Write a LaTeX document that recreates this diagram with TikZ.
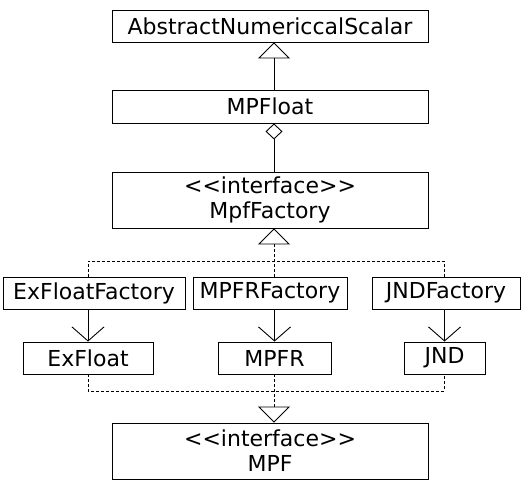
\documentclass[tikz,border=0pt]{standalone}
\usepackage{fontspec}
\setmainfont{DejaVu Sans}
\usetikzlibrary{arrows.meta}

\begin{document}
\begin{tikzpicture}[x=1pt,y=-1pt,line width=0.9pt,
  cls/.style={draw,inner sep=0pt,minimum height=32pt,align=center,
    font=\fontsize{22}{25}\selectfont},
  iface/.style={cls,minimum height=56pt},
  dashline/.style={dash pattern=on 3pt off 2pt},
  inherit/.style={-{Triangle[open,length=16pt,width=32pt]}},
  realize/.style={inherit,dashline},
  owns/.style={{Diamond[open,length=16pt,width=17pt]}-},
  uses/.style={-{Straight Barb[length=14pt,width=32pt]}}]
\useasboundingbox (0,0) rectangle (523,480);
\coordinate (spine) at (274,0);
\coordinate (topbar) at (0,261);
\coordinate (botbar) at (0,391);

% classes
\node[cls,minimum width=316pt] (abs) at (270,26) {AbstractNumericcalScalar};
\node[cls,minimum width=316pt,minimum height=33pt] (mpfloat) at (270,106.5) {MPFloat};
\node[iface,minimum width=316pt] (mpffac) at (270,200) {<{}<interface>{}>\\MpfFactory};
\node[cls,minimum width=182pt] (exff) at (94,293) {ExFloatFactory};
\node[cls,minimum width=154pt] (mpfrf) at (270,293) {MPFRFactory};
\node[cls,minimum width=148pt] (jndf) at (446,293) {JNDFactory};
\node[cls,minimum width=130pt] (exf) at (88,358) {ExFloat};
\node[cls,minimum width=113pt] (mpfr) at (274.5,358) {MPFR};
\node[cls,minimum width=81pt] (jnd) at (444.5,358) {JND};
\node[iface,minimum width=316pt] (mpf) at (270,451) {<{}<interface>{}>\\MPF};

% links
\draw[inherit] (spine |- mpfloat.north) -- (spine |- abs.south);
\draw[owns] (spine |- mpfloat.south) -- (spine |- mpffac.north);
\draw[dashline] (exf |- exff.north) |- (jnd |- topbar) -- (jnd |- jndf.north);
\draw[realize] (spine |- mpfrf.north) -- (spine |- mpffac.south);
\foreach \p/\f in {exf/exff,mpfr/mpfrf,jnd/jndf}
  \draw[uses] (\p |- \f.south) -- (\p.north);
\draw[dashline] (exf.south) |- (jnd |- botbar) -- (jnd.south);
\draw[realize] (spine |- mpfr.south) -- (spine |- mpf.north);
\end{tikzpicture}
\end{document}
